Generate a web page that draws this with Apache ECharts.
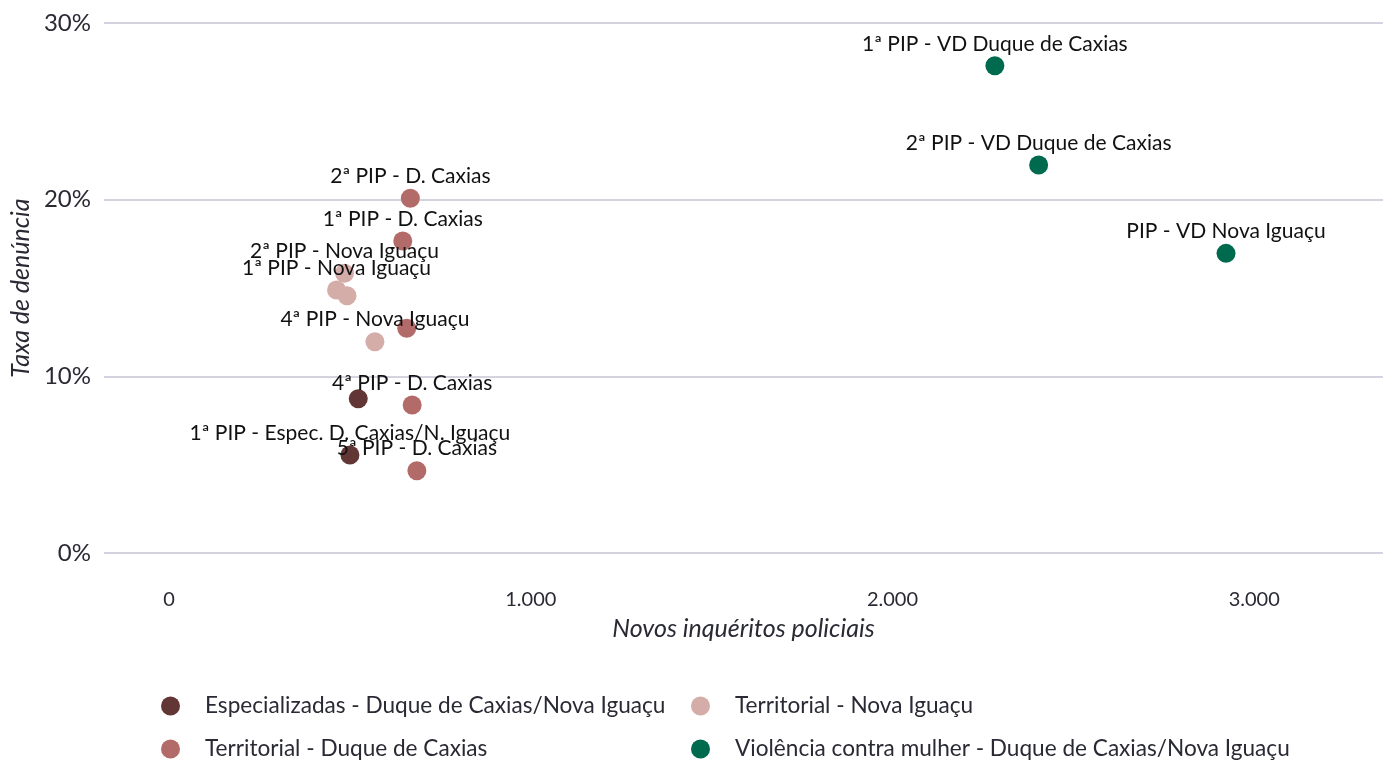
<!DOCTYPE html>
<html>
<head>
<meta charset="utf-8">
<script src="https://cdn.jsdelivr.net/npm/echarts@6/dist/echarts.min.js"></script>
<style>
  html, body { margin: 0; padding: 0; background: #fff; }
  #chart { width: 1383px; height: 761px; }
</style>
</head>
<body>
<div id="chart"></div>
<script>
// grupos (legenda)
const groupNames = [
  'Especializadas - Duque de Caxias/Nova Iguaçu',
  'Territorial - Duque de Caxias',
  'Territorial - Nova Iguaçu',
  'Violência contra mulher - Duque de Caxias/Nova Iguaçu'
]
const groupColors = ['#633636', '#b36b69', '#d4aca8', '#006a4e']

// Especializadas
const espLabels = ['1ª PIP - Espec. D. Caxias/N. Iguaçu', '']
const espX = [500, 523]
const espY = [0.0555, 0.0873]

// Territorial - Duque de Caxias
const dcLabels = ['2ª PIP - D. Caxias', '1ª PIP - D. Caxias', '', '4ª PIP - D. Caxias', '5ª PIP - D. Caxias']
const dcX = [667, 646, 657, 672, 685]
const dcY = [0.2008, 0.1766, 0.1272, 0.0838, 0.0466]

// Territorial - Nova Iguaçu
const niLabels = ['2ª PIP - Nova Iguaçu', '1ª PIP - Nova Iguaçu', '', '4ª PIP - Nova Iguaçu']
const niX = [485, 463, 492, 569]
const niY = [0.1583, 0.1489, 0.1456, 0.1196]

// Violência doméstica
const vdLabels = ['1ª PIP - VD Duque de Caxias', '2ª PIP - VD Duque de Caxias', 'PIP - VD Nova Iguaçu']
const vdX = [2283, 2404, 2922]
const vdY = [0.2758, 0.2196, 0.1696]

const xTicks = [0, 1000, 2000, 3000]

const textColor = '#2a2a35'
const fontFamily = 'Lato, "Noto Sans", sans-serif'

function toPoints(xs, ys, labels) {
  return xs.map((x, i) => ({ value: [x, ys[i]], name: labels[i] }))
}

const groups = [
  [espX, espY, espLabels],
  [dcX, dcY, dcLabels],
  [niX, niY, niLabels],
  [vdX, vdY, vdLabels]
]

// legenda em 2 colunas (ordem por coluna, como no original)
const legendPos = [[161, 694], [161, 737], [691, 694], [691, 737]]
const legends = groupNames.map((name, i) => ({
  data: [name],
  left: legendPos[i][0],
  top: legendPos[i][1],
  padding: 0,
  icon: 'circle',
  itemWidth: 19,
  itemHeight: 19,
  textStyle: { fontSize: 22.6, lineHeight: 24, color: textColor, fontFamily, padding: [0, 0, 0, 20] }
}))

const chart = echarts.init(document.getElementById('chart'))

chart.setOption({
  animation: false,
  textStyle: { fontFamily },
  grid: { left: 103, right: 0, top: 23, bottom: 208 },
  legend: legends,
  xAxis: {
    type: 'value',
    min: -180,
    max: 3356,
    name: 'Novos inquéritos policiais',
    nameLocation: 'middle',
    nameGap: 63,
    nameTextStyle: { fontSize: 25, fontStyle: 'italic', color: textColor, fontFamily },
    axisLine: { show: false },
    axisTick: { show: false },
    splitLine: { show: false },
    axisLabel: {
      customValues: xTicks,
      margin: 37,
      fontSize: 20,
      color: textColor,
      fontFamily,
      formatter: v => v.toLocaleString('de-DE')
    }
  },
  yAxis: {
    type: 'value',
    min: 0,
    max: 0.3,
    interval: 0.1,
    name: 'Taxa de denúncia',
    nameLocation: 'middle',
    nameGap: 69,
    nameTextStyle: { fontSize: 25, fontStyle: 'italic', color: textColor, fontFamily },
    axisLine: { show: false },
    axisTick: { show: false },
    splitLine: { lineStyle: { color: '#d4d3e0', width: 2 } },
    axisLabel: {
      margin: 13,
      fontSize: 24,
      color: textColor,
      fontFamily,
      formatter: v => Math.round(v * 100) + '%'
    }
  },
  series: groups.map((g, i) => ({
    name: groupNames[i],
    type: 'scatter',
    symbolSize: 19,
    itemStyle: { color: groupColors[i], opacity: 1 },
    label: {
      show: true,
      position: 'top',
      distance: 2,
      fontSize: 21,
      color: '#111',
      fontFamily,
      formatter: p => p.name
    },
    data: toPoints(g[0], g[1], g[2])
  }))
})
</script>
</body>
</html>
